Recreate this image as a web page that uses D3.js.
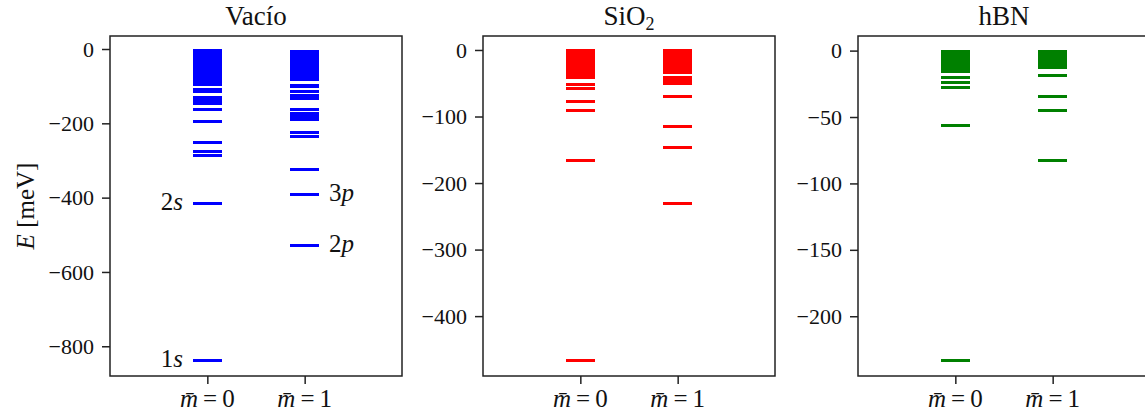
<!DOCTYPE html>
<html>
<head>
<meta charset="utf-8">
<script src="https://cdn.jsdelivr.net/npm/d3@7"></script>
<style>
  body { margin: 0; background: #fff; }
  text { font-family: "Liberation Serif", serif; fill: #111; }
</style>
</head>
<body>
<div id="chart"></div>
<script>
// ---- data (meV) ----
var columns = [0, 1];
var columnLabels = ["0", "1"];
var panelTitles = ["Vacío", "SiO2", "hBN"];
var panelColors = ["#0000ff", "#ff0000", "#008000"];

var vacioM0 = [-5, -9, -14, -19, -25, -31, -37, -43, -49, -55, -61, -67, -73, -79, -85, -90, -94.5,
  -109, -115, -131, -139, -146, -161.5, -194, -252.5, -276.7, -287.5, -414.8, -838];
var vacioM1 = [-8, -13, -18, -24, -30, -36, -42, -48, -54, -60, -66, -72, -78, -83,
  -97, -100, -115, -125, -133, -164, -172.5, -181, -189.5, -225.5, -235.5, -325, -391, -527.5];

var sio2M0 = [-1.5, -4, -7, -10, -13, -16, -19.5, -23, -26.5, -30, -34, -38, -42,
  -52.3, -57.4, -77.4, -91.2, -165.4, -466.4];
var sio2M1 = [-1.5, -4, -7, -10, -13.5, -17, -21, -25, -29, -33.4,
  -41.8, -45.9, -50, -69.4, -114.3, -146.9, -230];

var hbnM0 = [-0.3, -2, -3.5, -5, -6.5, -8, -9.5, -11, -12.5, -14, -15.7,
  -20.6, -24.1, -27.6, -56.5, -233];
var hbnM1 = [-0.3, -2, -3.5, -5, -6.5, -8, -9.5, -11, -12.4,
  -18.9, -34.6, -45.2, -83];

var vacioTicks = [0, -200, -400, -600, -800];
var sio2Ticks = [0, -100, -200, -300, -400];
var hbnTicks = [0, -50, -100, -150, -200];

var yDomains = [[-880, 35], [-490, 21], [-245, 11]];

// state labels in the vacuum panel: [number, letter, column, energy]
var vacioStates = [["1", "s", 0, -838], ["2", "s", 0, -414.8], ["3", "p", 1, -391], ["2", "p", 1, -527.5]];

var panels = [
  { title: panelTitles[0], color: panelColors[0], levels: [vacioM0, vacioM1], ticks: vacioTicks, domain: yDomains[0] },
  { title: panelTitles[1], color: panelColors[1], levels: [sio2M0, sio2M1], ticks: sio2Ticks, domain: yDomains[1] },
  { title: panelTitles[2], color: panelColors[2], levels: [hbnM0, hbnM1], ticks: hbnTicks, domain: yDomains[2] }
];

// ---- layout ----
var svgWidth = 1145;
var svgHeight = 417;
var panelLeft = [110, 483, 858];
var panelWidth = 292;
var plotTop = 36, plotBottom = 376;
var halfWidth = 0.15;

var svg = d3.select("#chart")
  .append("svg")
  .attr("width", svgWidth)
  .attr("height", svgHeight);

panels.forEach(function(p, i) {
  var g = svg.append("g").attr("transform", `translate(${panelLeft[i]},0)`);

  var x = d3.scaleLinear().domain([-1, 2]).range([0, panelWidth]);
  var y = d3.scaleLinear().domain(p.domain).range([plotBottom, plotTop]);

  // levels (crisp so that dense levels merge into a solid block)
  p.levels.forEach(function(col, j) {
    g.selectAll(null)
      .data(col)
      .enter()
      .append("line")
      .attr("x1", x(columns[j] - halfWidth))
      .attr("x2", x(columns[j] + halfWidth))
      .attr("y1", d => y(d))
      .attr("y2", d => y(d))
      .attr("stroke", p.color)
      .attr("stroke-width", 3)
      .attr("shape-rendering", "crispEdges");
  });

  // y axis
  var leftAxis = d3.axisLeft(y).tickValues(p.ticks).tickSize(8).tickPadding(8)
    .tickFormat(d3.format("d"));
  var yAxis = g.append("g").call(leftAxis);
  yAxis.select(".domain").remove();
  yAxis.selectAll("line").attr("stroke", "#222").attr("stroke-width", 1.5);
  yAxis.selectAll("text").attr("font-size", 22).attr("font-family", "Liberation Serif").attr("fill", "#111");

  // x axis ticks
  var bottomAxis = d3.axisBottom(x).tickValues(columns).tickSize(8).tickFormat("");
  var xAxis = g.append("g").attr("transform", `translate(0,${plotBottom})`).call(bottomAxis);
  xAxis.select(".domain").remove();
  xAxis.selectAll("line").attr("stroke", "#222").attr("stroke-width", 1.5);

  columns.forEach(function(c, j) {
    var t = g.append("text")
      .attr("x", x(c))
      .attr("y", 407)
      .attr("text-anchor", "middle")
      .attr("font-size", 25);
    t.append("tspan").attr("font-style", "italic").text("m\u0304");
    t.append("tspan").text("\u2009=\u2009" + columnLabels[j]);
  });

  // frame
  g.append("rect")
    .attr("x", 0).attr("y", plotTop)
    .attr("width", panelWidth).attr("height", plotBottom - plotTop)
    .attr("fill", "none")
    .attr("stroke", "#222")
    .attr("stroke-width", 1.5);

  // title
  var title = g.append("text")
    .attr("x", panelWidth / 2)
    .attr("y", 25)
    .attr("text-anchor", "middle")
    .attr("font-size", 27);
  if (p.title === "SiO2") {
    title.append("tspan").text("SiO");
    title.append("tspan").attr("font-size", 18).attr("dy", 5).text("2");
  } else {
    title.text(p.title);
  }

  if (i === 0) {
    vacioStates.forEach(function(s) {
      var right = s[2] === 0;
      var t = g.append("text")
        .attr("x", x(s[2] + (right ? -0.25 : 0.25)))
        .attr("y", y(s[3]) + 7)
        .attr("text-anchor", right ? "end" : "start")
        .attr("font-size", 25);
      t.append("tspan").text(s[0]);
      t.append("tspan").attr("font-style", "italic").text(s[1]);
    });

    var yl = svg.append("text")
      .attr("transform", "translate(34,206) rotate(-90)")
      .attr("text-anchor", "middle")
      .attr("font-size", 25);
    yl.append("tspan").attr("font-style", "italic").text("E");
    yl.append("tspan").text(" [meV]");
  }
});
</script>
</body>
</html>
